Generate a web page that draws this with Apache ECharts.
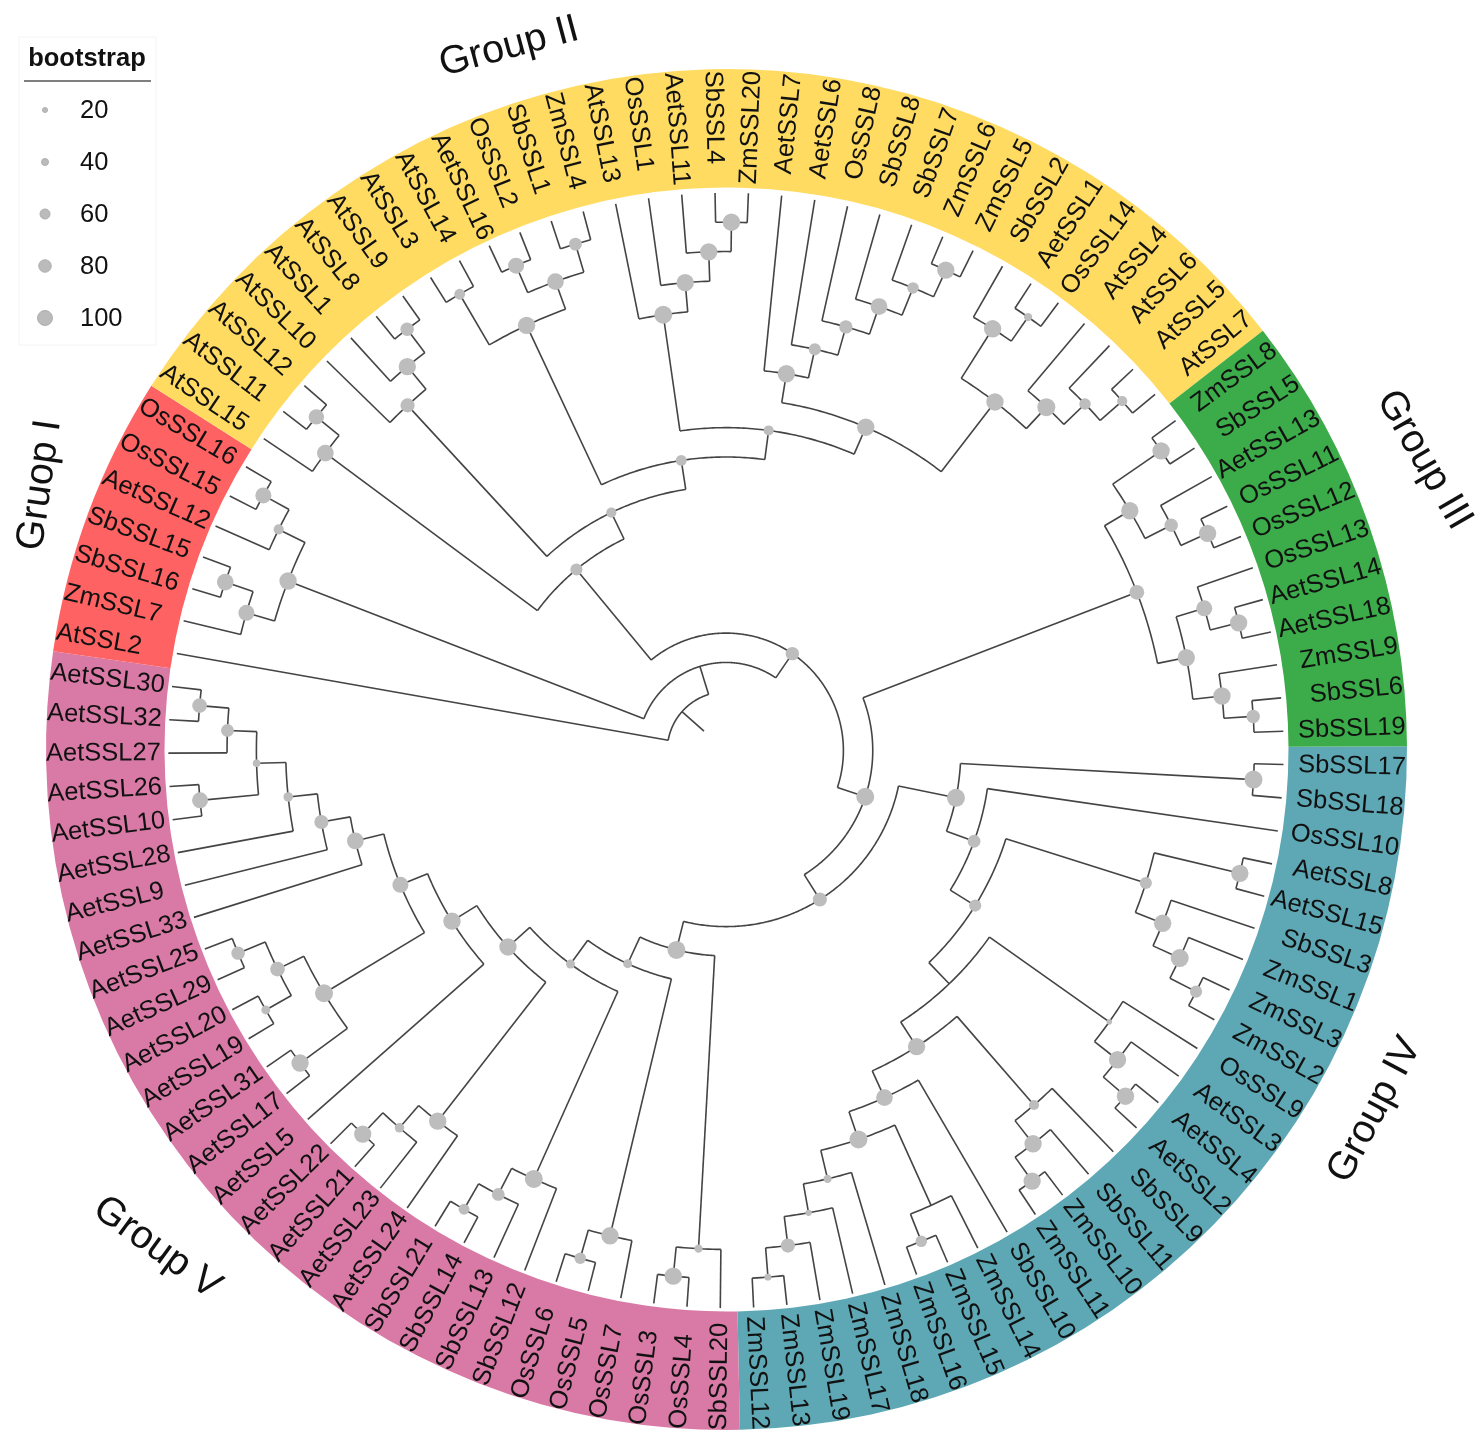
<!DOCTYPE html>
<html>
<head>
<meta charset="utf-8">
<style>html,body{margin:0;padding:0;background:#fff}#c{width:1483px;height:1450px}</style>
<script src="https://cdn.jsdelivr.net/npm/echarts@6/dist/echarts.min.js"></script>
</head>
<body>
<div id="c"></div>
<script>
// ---- data ----
const groupNames = ["Group IV", "Group V", "Gruop I", "Group II", "Group III"];
const groupLeafCounts = [26, 29, 7, 32, 11];
const groupColors = ["#5EA8B5", "#D97AA6", "#FE6262", "#FFDB62", "#3CAB49"];

// leaves, clockwise, beginning with AtSSL2
const leafNames = [
  "AtSSL2","ZmSSL7","SbSSL16","SbSSL15","AetSSL12","OsSSL15","OsSSL16",
  "AtSSL15","AtSSL11","AtSSL12","AtSSL10","AtSSL1","AtSSL8","AtSSL9","AtSSL3","AtSSL14","AetSSL16","OsSSL2","SbSSL1","ZmSSL4","AtSSL13","OsSSL1","AetSSL11","SbSSL4","ZmSSL20","AetSSL7","AetSSL6","OsSSL8","SbSSL8","SbSSL7","ZmSSL6","ZmSSL5","SbSSL2","AetSSL1","OsSSL14","AtSSL4","AtSSL6","AtSSL5","AtSSL7",
  "ZmSSL8","SbSSL5","AetSSL13","OsSSL11","OsSSL12","OsSSL13","AetSSL14","AetSSL18","ZmSSL9","SbSSL6","SbSSL19",
  "SbSSL17","SbSSL18","OsSSL10","AetSSL8","AetSSL15","SbSSL3","ZmSSL1","ZmSSL3","ZmSSL2","OsSSL9","AetSSL3","AetSSL4","AetSSL2","SbSSL9","SbSSL11","ZmSSL10","ZmSSL11","SbSSL10","ZmSSL14","ZmSSL15","ZmSSL16","ZmSSL18","ZmSSL17","ZmSSL19","ZmSSL13","ZmSSL12",
  "SbSSL20","OsSSL4","OsSSL3","OsSSL7","OsSSL5","OsSSL6","SbSSL12","SbSSL13","SbSSL14","SbSSL21","AetSSL24","AetSSL23","AetSSL21","AetSSL22","AetSSL5","AetSSL17","AetSSL31","AetSSL19","AetSSL20","AetSSL29","AetSSL25","AetSSL33","AetSSL9","AetSSL28","AetSSL10","AetSSL26","AetSSL27","AetSSL32","AetSSL30"
];

// clades: [depth, bootstrap, child, child]; a string is a leaf (depth 19)
const cladeI = [16,95,[17,85,"ZmSSL7",[18,90,"SbSSL16","SbSSL15"]],[17,40,"AetSSL12",[18,85,"OsSSL15","OsSSL16"]]];
const cladeII = [8,55,
  [17,90,"AtSSL15",[18,80,"AtSSL11","AtSSL12"]],
  [9,40,
    [16,70,"AtSSL10",[17,95,"AtSSL1",[18,65,"AtSSL8","AtSSL9"]]],
    [10,45,
      [16,95,[18,45,"AtSSL3","AtSSL14"],[17,90,[18,85,"AetSSL16","OsSSL2"],[18,60,"SbSSL1","ZmSSL4"]]],
      [11,40,
        [15,100,"AtSSL13",[16,95,"OsSSL1",[17,95,"AetSSL11",[18,95,"SbSSL4","ZmSSL20"]]]],
        [12,95,
          [13,95,"AetSSL7",[14,55,"AetSSL6",[15,65,"OsSSL8",[16,90,"SbSSL8",[17,50,"SbSSL7",[18,95,"ZmSSL6","ZmSSL5"]]]]]],
          [15,95,[17,95,"SbSSL2",[18,25,"AetSSL1","OsSSL14"]],[16,100,"AtSSL4",[17,50,"AtSSL6",[18,40,"AtSSL5","AtSSL7"]]]]
        ]
      ]
    ]
  ]
];
const cladeIII = [15,75,
  [16,95,[18,95,"ZmSSL8","SbSSL5"],[17,65,"AetSSL13",[18,95,"OsSSL11","OsSSL12"]]],
  [16,95,[17,85,"OsSSL13",[18,95,"AetSSL14","AetSSL18"]],[17,95,"ZmSSL9",[18,65,"SbSSL6","SbSSL19"]]]
];
const cladeIV = [8,100,
  [18,100,"SbSSL17","SbSSL18"],
  [9,60,"OsSSL10",
    [10,55,
      [15,55,[18,95,"AetSSL8","AetSSL15"],[16,95,"SbSSL3",[17,100,"ZmSSL1",[18,55,"ZmSSL3","ZmSSL2"]]]],
      [11,null,
        [16,5,"OsSSL9",[17,95,"AetSSL3",[18,95,"AetSSL4","AetSSL2"]]],
        [12,95,
          [16,40,"SbSSL9",[17,95,"SbSSL11",[18,95,"ZmSSL10","ZmSSL11"]]],
          [13,90,"SbSSL10",
            [14,100,
              [17,null,"ZmSSL14",[18,50,"ZmSSL15","ZmSSL16"]],
              [15,25,"ZmSSL18",[16,10,"ZmSSL17",[17,70,"ZmSSL19",[18,15,"ZmSSL13","ZmSSL12"]]]]
            ]
          ]
        ]
      ]
    ]
  ]
];
const cladeV = [7,100,
  [17,25,"SbSSL20",[18,95,"OsSSL4","OsSSL3"]],
  [8,30,
    [17,95,"OsSSL7",[18,50,"OsSSL5","OsSSL6"]],
    [9,30,
      [16,100,"SbSSL12",[17,60,"SbSSL13",[18,45,"SbSSL14","SbSSL21"]]],
      [10,95,
        [16,95,"AetSSL24",[17,35,"AetSSL23",[18,95,"AetSSL21","AetSSL22"]]],
        [11,95,"AetSSL5",
          [12,85,
            [16,100,[18,95,"AetSSL17","AetSSL31"],[17,75,[18,30,"AetSSL19","AetSSL20"],[18,65,"AetSSL29","AetSSL25"]]],
            [13,90,"AetSSL33",[14,70,"AetSSL9",[15,35,"AetSSL28",[16,20,[18,85,"AetSSL10","AetSSL26"],[17,60,"AetSSL27",[18,75,"AetSSL32","AetSSL30"]]]]]]
          ]
        ]
      ]
    ]
  ]
];
const treeRoot = [2,null,"AtSSL2",[3,null,cladeI,[4,65,cladeII,[5,100,cladeIII,[6,70,cladeIV,cladeV]]]]];
const rootEdgeDepth = 1, leafDepth = 19;

const legendValues = [20, 40, 60, 80, 100];
const legendDiameters = [5, 7, 10, 12.5, 15];

const groupTitles = [
  {text:"Gruop I",  x:40,   y:485,  deg:82},
  {text:"Group II", x:509,  y:47,   deg:15},
  {text:"Group III",x:1424, y:460,  deg:-60},
  {text:"Group IV", x:1375, y:1110, deg:62},
  {text:"Group V",  x:157,  y:1248, deg:-36}
];

// ---- layout constants ----
const RING_CX = 726.5, RING_CY = 749.5, RING_OUT = 680.5, RING_IN = 562, DEPTH_PX = 29.35;
const TREE_CX = 726, TREE_CY = 750.5, TURN = -0.27;
const LABEL_OUTER = 680 / DEPTH_PX;
const STEP = 360 / leafNames.length;
const FIRST_ANGLE = STEP * (groupLeafCounts[0] + groupLeafCounts[1] + 0.5) + TURN;
const FONT = '"Liberation Sans", Arial, sans-serif';

// ---- flatten tree ----
const branches = [], nodePoints = [], leafLabels = [];
function walk(n, parentDepth) {
  if (typeof n === "string") {
    const a = FIRST_ANGLE + STEP * leafNames.indexOf(n);
    branches.push([a, leafDepth, parentDepth, a, a]);
    leafLabels.push([LABEL_OUTER, (a + 360) % 360, n]);
    return a;
  }
  const a0 = walk(n[2], n[0]), a1 = walk(n[3], n[0]);
  const a = (a0 + a1) / 2;
  branches.push([a, n[0], parentDepth, a0, a1]);
  if (n[1] !== null) nodePoints.push([n[0], a % 360, n[1]]);
  return a;
}
walk(treeRoot, rootEdgeDepth);

// ---- legend graphics ----
const legendEls = [
  {type:"rect", shape:{x:19,y:37,width:137,height:308}, style:{fill:"#fff",stroke:"#f4f4f4",lineWidth:1}, z:1},
  {type:"text", x:87, y:59, style:{text:"bootstrap",fontSize:25.5,fontWeight:"bold",fontFamily:FONT,fill:"#111",align:"center",verticalAlign:"middle",textAlign:"center",textVerticalAlign:"middle"}, z:2},
  {type:"line", shape:{x1:24,y1:81,x2:151,y2:81}, style:{stroke:"#555",lineWidth:1.4}, z:2}
];
legendValues.forEach((v,i)=>{
  const y = 110 + 52*i;
  legendEls.push({type:"circle", shape:{cx:45,cy:y,r:legendDiameters[i]/2}, style:{fill:"#BBBBBB",stroke:"#AEAEAE",lineWidth:1}, z:2});
  legendEls.push({type:"text", x:80, y:y+1, style:{text:String(v),fontSize:25.5,fontFamily:FONT,fill:"#111",align:"left",verticalAlign:"middle",textAlign:"left",textVerticalAlign:"middle"}, z:2});
});
const titleEls = groupTitles.map(t=>({type:"text", x:t.x, y:t.y, rotation:t.deg*Math.PI/180,
  style:{text:t.text,fontSize:39.5,fontFamily:FONT,fill:"#111",align:"center",verticalAlign:"middle",textAlign:"center",textVerticalAlign:"middle"}, z:3}));

// ---- chart ----
const chart = echarts.init(document.getElementById("c"), null, {renderer:"canvas"});
chart.setOption({
  animation:false,
  backgroundColor:"#fff",
  polar:{center:[TREE_CX,TREE_CY], radius:RING_OUT},
  angleAxis:{type:"value",min:0,max:360,startAngle:0,clockwise:true,show:false},
  radiusAxis:{type:"value",min:0,max:RING_OUT/DEPTH_PX,show:false},
  graphic:{elements:legendEls.concat(titleEls)},
  series:[
    {type:"pie",center:[RING_CX,RING_CY],radius:[RING_IN,RING_OUT],startAngle:-TURN,clockwise:true,silent:true,z:1,
     label:{show:false},labelLine:{show:false},itemStyle:{borderWidth:0},
     data:groupNames.map((n,i)=>({name:n,value:groupLeafCounts[i],itemStyle:{color:groupColors[i]}}))},
    {type:"custom",coordinateSystem:"polar",silent:true,z:2,data:branches,
     renderItem:function(params,api){
       const ang=(api.value(0)+360)%360,d=api.value(1),pd=api.value(2),a0=api.value(3),a1=api.value(4);
       const pts=[api.coord([pd,ang]),api.coord([d,ang])];
       const children=[{type:"polyline",shape:{points:pts},style:{fill:null,stroke:"#444",lineWidth:1.6}}];
       if(a1>a0){
         const arc=[];
         const n=Math.max(2,Math.ceil((a1-a0)/0.5));
         for(let i=0;i<=n;i++){const t=a0+(a1-a0)*i/n;arc.push(api.coord([d,t%360]));}
         children.push({type:"polyline",shape:{points:arc},style:{fill:null,stroke:"#444",lineWidth:1.6,lineJoin:"round"}});
       }
       return {type:"group",children:children};
     }},
    {type:"scatter",coordinateSystem:"polar",silent:true,z:3,data:nodePoints,
     symbolSize:function(v){return 5+0.13*v[2];},
     itemStyle:{color:"#BDBDBD",opacity:1}},
    {type:"custom",coordinateSystem:"polar",silent:true,z:4,data:leafLabels,
     renderItem:function(params,api){
       const a=api.value(1),p=api.coord([api.value(0),a]);
       const left=Math.cos(a*Math.PI/180)<0;
       const rot=-(left?a-180:a)*Math.PI/180;
       const al=left?"left":"right";
       return {type:"text",x:p[0],y:p[1],rotation:rot,
         style:{text:leafLabels[params.dataIndex][2],fontSize:25.5,fontFamily:FONT,fill:"#111",align:al,verticalAlign:"middle",textAlign:al,textVerticalAlign:"middle"}};
     }}
  ]
});
</script>
</body>
</html>
